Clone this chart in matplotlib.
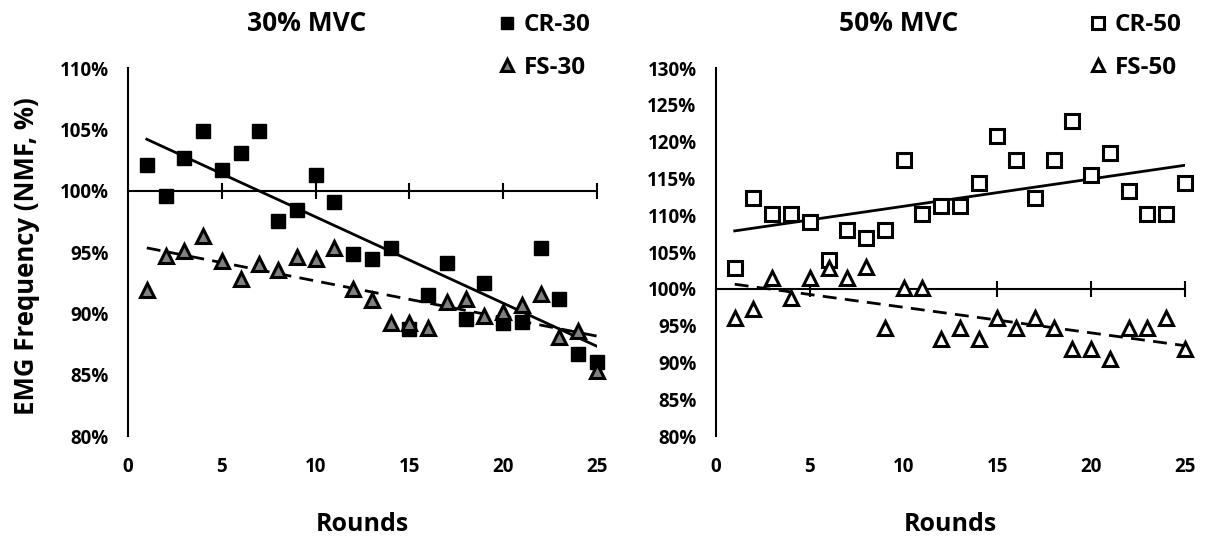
import numpy as np
import matplotlib
matplotlib.use("Agg")
import matplotlib.pyplot as plt

plt.rcParams['font.family'] = ['Open Sans', 'DejaVu Sans']
plt.rcParams['font.weight'] = 'bold'

rounds = np.arange(1, 26)

# 30% MVC
cr30 = [102.1, 99.6, 102.7, 104.9, 101.7, 103.1, 104.9, 97.5, 98.4, 101.3,
        99.1, 94.8, 94.4, 95.3, 88.7, 91.5, 94.1, 89.5, 92.5, 89.2,
        89.3, 95.3, 91.2, 86.7, 86.0]
fs30 = [91.9, 94.7, 95.1, 96.3, 94.3, 92.8, 94.0, 93.5, 94.6, 94.4,
        95.3, 92.0, 91.1, 89.2, 89.2, 88.8, 90.9, 91.2, 89.8, 90.1,
        90.7, 91.6, 88.1, 88.6, 85.3]

# 50% MVC
cr50 = [102.8, 112.3, 110.1, 110.1, 109.1, 103.9, 108.0, 106.9, 108.0, 117.5,
        110.1, 111.2, 111.2, 114.4, 120.7, 117.5, 112.3, 117.5, 122.8, 115.4,
        118.5, 113.3, 110.1, 110.1, 114.4]
fs50 = [96.0, 97.3, 101.5, 98.8, 101.5, 102.8, 101.5, 102.9, 94.7, 100.1,
        100.1, 93.2, 94.7, 93.2, 96.1, 94.7, 96.1, 94.7, 91.8, 91.8,
        90.4, 94.7, 94.7, 96.1, 91.8]

panels = [
    dict(title='30% MVC', cr=cr30, fs=fs30, cr_lab='CR-30', fs_lab='FS-30',
         cr_face='black', fs_face='#808080', ylim=(80, 110),
         pos=[0.1059, 0.1985, 0.3879, 0.6765], title_x=0.254, leg_x=0.401),
    dict(title='50% MVC', cr=cr50, fs=fs50, cr_lab='CR-50', fs_lab='FS-50',
         cr_face='white', fs_face='white', ylim=(80, 130),
         pos=[0.5922, 0.1985, 0.3879, 0.6765], title_x=0.743, leg_x=0.890),
]

fig = plt.figure(figsize=(12.09, 5.44), dpi=100)

for p in panels:
    ax = fig.add_axes(p['pos'])
    ax.plot(rounds, p['cr'], linestyle='none', marker='s', markersize=9.5,
            markerfacecolor=p['cr_face'], markeredgecolor='black',
            markeredgewidth=2.2 if p['cr_face'] == 'white' else 1.0,
            label=p['cr_lab'], zorder=3, clip_on=False)
    ax.plot(rounds, p['fs'], linestyle='none', marker='^', markersize=9.5,
            markerfacecolor=p['fs_face'], markeredgecolor='black',
            markeredgewidth=2.2, label=p['fs_lab'], zorder=3, clip_on=False)

    # linear trendlines
    k, b = np.polyfit(rounds, p['cr'], 1)
    ax.plot([1, 25], [k * 1 + b, k * 25 + b], color='black', lw=2, zorder=2)
    k, b = np.polyfit(rounds, p['fs'], 1)
    ax.plot([1, 25], [k * 1 + b, k * 25 + b], color='black', lw=2,
            linestyle=(0, (5, 3)), zorder=2)

    ax.set_xlim(0, 25)
    ax.set_ylim(*p['ylim'])
    yt = np.arange(p['ylim'][0], p['ylim'][1] + 1, 5)
    ax.set_yticks(yt)
    ax.set_yticklabels([f'{v}%' for v in yt], fontsize=13.5, fontweight='bold')
    ax.tick_params(axis='y', length=0, pad=14)

    for s in ['top', 'right']:
        ax.spines[s].set_visible(False)
    ax.spines['left'].set_linewidth(1.5)
    ax.spines['bottom'].set_position(('data', 100))
    ax.spines['bottom'].set_linewidth(1.5)
    ax.set_xticks([5, 10, 15, 20, 25])
    ax.tick_params(axis='x', direction='inout', length=12, width=1.5,
                   labelbottom=False)

    sec = ax.secondary_xaxis(0)
    sec.set_xticks([0, 5, 10, 15, 20, 25])
    sec.set_xticklabels(['0', '5', '10', '15', '20', '25'],
                        fontsize=13.5, fontweight='bold')
    sec.tick_params(length=0, pad=15)
    sec.spines['bottom'].set_visible(False)
    sec.set_xlabel('Rounds', fontsize=18, fontweight='bold', labelpad=25)

    fig.text(p['title_x'], 0.957, p['title'], ha='center', va='center',
             fontsize=19, fontweight='bold')
    ax.legend(loc='upper left', bbox_to_anchor=(p['leg_x'], 1.0),
              bbox_transform=fig.transFigure, frameon=False,
              handlelength=0.7, handletextpad=0.35, labelspacing=0.75,
              borderaxespad=0.15, markerscale=0.9,
              prop={'size': 17.5, 'weight': 'bold'})

fig.text(0.022, 0.53, 'EMG Frequency (NMF, %)', rotation=90, ha='center',
         va='center', fontsize=18.5, fontweight='bold')

fig.savefig('out.png', dpi=100)
